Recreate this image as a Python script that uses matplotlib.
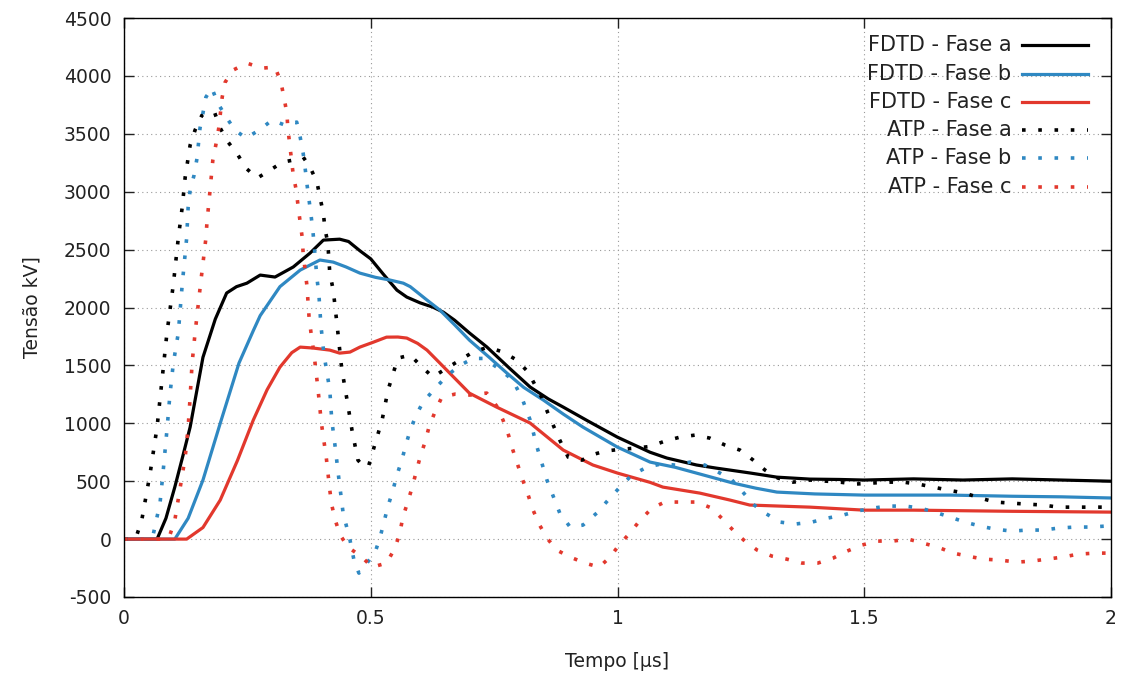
import matplotlib
matplotlib.use("Agg")
import matplotlib.pyplot as plt

# FDTD - Fase a
t_fa = [0, 0.067, 0.085, 0.103, 0.12, 0.134, 0.16, 0.185, 0.208, 0.228, 0.249, 0.276, 0.306,
        0.343, 0.377, 0.404, 0.437, 0.455, 0.478, 0.5, 0.525, 0.553, 0.573, 0.6, 0.626, 0.647,
        0.67, 0.7, 0.735, 0.78, 0.823, 0.86, 0.89, 0.94, 1.0, 1.066, 1.1, 1.16, 1.2, 1.228,
        1.27, 1.323, 1.39, 1.45, 1.5, 1.6, 1.7, 1.8, 1.9, 2.0]
v_fa = [0, 0, 180, 450, 730, 967, 1570, 1900, 2125, 2180, 2210, 2280, 2263,
        2350, 2470, 2582, 2590, 2570, 2490, 2420, 2290, 2150, 2090, 2040, 2003, 1960,
        1890, 1780, 1660, 1480, 1313, 1210, 1140, 1020, 880, 750, 700, 640, 613, 596,
        570, 535, 518, 515, 510, 520, 510, 520, 510, 500]

# FDTD - Fase b
t_fb = [0, 0.103, 0.13, 0.16, 0.195, 0.233, 0.262, 0.276, 0.316, 0.357, 0.397, 0.424, 0.45,
        0.478, 0.51, 0.539, 0.566, 0.58, 0.614, 0.64, 0.67, 0.7, 0.74, 0.776, 0.81, 0.85,
        0.89, 0.93, 1.0, 1.066, 1.117, 1.16, 1.234, 1.28, 1.323, 1.4, 1.5, 1.6, 1.674, 1.8,
        1.9, 2.0]
v_fb = [0, 0, 180, 510, 1000, 1520, 1800, 1930, 2180, 2323, 2410, 2392, 2350,
        2297, 2260, 2237, 2210, 2180, 2064, 1978, 1850, 1718, 1570, 1433, 1310, 1200,
        1080, 967, 794, 665, 620, 570, 484, 440, 406, 390, 380, 380, 380, 370,
        365, 355]

# FDTD - Fase c
t_fc = [0, 0.127, 0.16, 0.195, 0.23, 0.262, 0.29, 0.316, 0.34, 0.357, 0.383, 0.417, 0.437,
        0.458, 0.478, 0.505, 0.532, 0.555, 0.573, 0.595, 0.614, 0.64, 0.67, 0.7, 0.755,
        0.823, 0.89, 0.95, 1.0, 1.066, 1.092, 1.167, 1.228, 1.268, 1.39, 1.5, 1.6, 1.8, 2.0]
v_fc = [0, 0, 100, 337, 680, 1028, 1290, 1485, 1610, 1658, 1650, 1632, 1606,
        1615, 1658, 1700, 1744, 1745, 1736, 1690, 1632, 1520, 1390, 1260, 1140,
        1002, 769, 640, 570, 490, 449, 397, 337, 294, 276, 250, 250, 240, 233]

# ATP - Fase a
t_aa = [0, 0.02, 0.026, 0.036, 0.053, 0.067, 0.077, 0.087, 0.1, 0.11, 0.118, 0.124, 0.134,
        0.144, 0.158, 0.172, 0.184, 0.195, 0.211, 0.231, 0.247, 0.27, 0.296, 0.322, 0.343,
        0.363, 0.377, 0.391, 0.397, 0.404, 0.407, 0.413, 0.417, 0.424, 0.431, 0.441, 0.451,
        0.462, 0.474, 0.485, 0.495, 0.505, 0.523, 0.535, 0.555, 0.58, 0.604, 0.626, 0.654,
        0.681, 0.707, 0.738, 0.768, 0.796, 0.819, 0.833, 0.847, 0.859, 0.883, 0.9, 0.928,
        0.95, 0.975, 1.005, 1.035, 1.066, 1.096, 1.127, 1.157, 1.187, 1.218, 1.248, 1.275,
        1.299, 1.325, 1.356, 1.39, 1.451, 1.481, 1.516, 1.546, 1.579, 1.609, 1.64, 1.67,
        1.704, 1.735, 1.765, 1.796, 1.83, 1.863, 1.893, 1.923, 1.957, 2.0]
v_aa = [0, 0, 35, 164, 570, 967, 1373, 1779, 2200, 2600, 2867, 3126, 3402,
        3532, 3661, 3690, 3679, 3549, 3428, 3316, 3204, 3117, 3187, 3256, 3273,
        3299, 3212, 3083, 2953, 2815, 2686, 2556, 2297, 2150, 1880, 1477, 1226,
        941, 682, 630, 622, 769, 1028, 1287, 1563, 1589, 1485, 1399, 1477,
        1546, 1615, 1658, 1615, 1546, 1442, 1330, 1218, 1088, 855, 708, 682,
        730, 760, 775, 785, 800, 846, 881, 898, 872, 812, 769, 682,
        596, 527, 492, 510, 492, 475, 484, 492, 492, 475, 449, 423,
        397, 354, 320, 311, 302, 294, 276, 276, 276, 276]

# ATP - Fase b
t_ab = [0, 0.05, 0.059, 0.073, 0.079, 0.087, 0.093, 0.1, 0.11, 0.118, 0.127, 0.13, 0.134,
        0.142, 0.148, 0.154, 0.16, 0.166, 0.178, 0.19, 0.207, 0.225, 0.247, 0.274, 0.3,
        0.326, 0.35, 0.357, 0.363, 0.367, 0.371, 0.375, 0.379, 0.383, 0.391, 0.395, 0.399,
        0.405, 0.417, 0.421, 0.428, 0.434, 0.444, 0.458, 0.466, 0.476, 0.49, 0.509, 0.519,
        0.535, 0.545, 0.553, 0.563, 0.571, 0.58, 0.592, 0.606, 0.63, 0.657, 0.681, 0.707,
        0.73, 0.76, 0.788, 0.808, 0.823, 0.837, 0.857, 0.883, 0.904, 0.93, 0.958, 0.981,
        1.005, 1.029, 1.06, 1.09, 1.117, 1.147, 1.177, 1.204, 1.232, 1.254, 1.275, 1.299,
        1.329, 1.36, 1.394, 1.425, 1.457, 1.485, 1.518, 1.548, 1.583, 1.613, 1.643, 1.674,
        1.704, 1.735, 1.765, 1.799, 1.83, 1.863, 1.893, 1.927, 1.957, 1.988, 2.0]
v_ab = [0, 0, 35, 311, 570, 941, 1244, 1520, 1779, 2200, 2600, 2867, 3014,
        3143, 3290, 3549, 3679, 3817, 3895, 3765, 3644, 3532, 3463, 3532, 3618,
        3575, 3601, 3471, 3333, 3204, 3057, 2927, 2798, 2651, 2254, 2107, 1848,
        1600, 1287, 1028, 794, 570, 225, -9, -181, -294, -220, -112, 17,
        285, 423, 553, 682, 812, 941, 1071, 1183, 1300, 1420, 1500, 1560,
        1560, 1470, 1373, 1200, 1028, 794, 510, 225, 104, 121, 225, 337,
        449, 553, 622, 650, 639, 665, 639, 579, 510, 406, 300, 225,
        147, 130, 147, 181, 207, 242, 268, 285, 285, 268, 233, 190,
        147, 112, 86, 69, 78, 78, 95, 104, 104, 112, 115]

# ATP - Fase c
t_ac = [0, 0.085, 0.093, 0.103, 0.113, 0.124, 0.13, 0.134, 0.138, 0.144, 0.155, 0.166, 0.168,
        0.174, 0.18, 0.186, 0.192, 0.199, 0.205, 0.221, 0.249, 0.28, 0.306, 0.318, 0.324,
        0.33, 0.332, 0.336, 0.343, 0.349, 0.353, 0.357, 0.361, 0.363, 0.367, 0.371, 0.373,
        0.375, 0.379, 0.385, 0.393, 0.4, 0.41, 0.417, 0.421, 0.428, 0.438, 0.454, 0.482,
        0.503, 0.532, 0.549, 0.559, 0.565, 0.575, 0.584, 0.592, 0.6, 0.61, 0.618, 0.63,
        0.644, 0.671, 0.701, 0.735, 0.755, 0.768, 0.778, 0.788, 0.798, 0.808, 0.819, 0.829,
        0.841, 0.857, 0.877, 0.904, 0.934, 0.963, 0.985, 1.003, 1.025, 1.046, 1.07, 1.096,
        1.127, 1.16, 1.191, 1.211, 1.234, 1.258, 1.283, 1.313, 1.343, 1.374, 1.406, 1.437,
        1.465, 1.495, 1.526, 1.558, 1.589, 1.619, 1.649, 1.68, 1.71, 1.741, 1.775, 1.809,
        1.84, 1.87, 1.903, 1.933, 1.968, 2.0]
v_ac = [0, 0, 35, 164, 423, 708, 967, 1226, 1520, 1779, 2200, 2600, 2729,
        2997, 3273, 3402, 3549, 3817, 3946, 4050, 4110, 4067, 4076, 3946, 3817,
        3679, 3549, 3402, 3143, 3014, 2867, 2737, 2608, 2470, 2323, 2176, 2038,
        1917, 1779, 1600, 1300, 1000, 700, 423, 294, 164, 35, -69, -155,
        -242, -207, -78, 52, 190, 320, 449, 579, 708, 838, 967, 1097,
        1226, 1252, 1244, 1261, 1150, 1028, 915, 769, 639, 510, 380, 250,
        130, 9, -95, -155, -207, -242, -155, -52, 52, 164, 268, 320,
        320, 320, 268, 181, 78, -17, -95, -147, -173, -207, -207, -164,
        -104, -52, -17, -17, 0, -35, -69, -121, -147, -173, -181, -199,
        -190, -173, -155, -130, -121, -121]

azul = "#2f88c2"
verm = "#e2382d"
pontilhado = (0, (1, 3.5))

series = [
    ("FDTD - Fase a", t_fa, v_fa, "black", "-"),
    ("FDTD - Fase b", t_fb, v_fb, azul, "-"),
    ("FDTD - Fase c", t_fc, v_fc, verm, "-"),
    ("ATP - Fase a", t_aa, v_aa, "black", pontilhado),
    ("ATP - Fase b", t_ab, v_ab, azul, pontilhado),
    ("ATP - Fase c", t_ac, v_ac, verm, pontilhado),
]

plt.rcParams["font.family"] = "DejaVu Sans"
plt.rcParams["font.size"] = 13.5
plt.rcParams["axes.unicode_minus"] = False

fig = plt.figure(figsize=(11.3, 6.87), dpi=100)
ax = fig.add_axes([124 / 1130, 1 - 597 / 687, 987 / 1130, 579 / 687])

for nome, t, v, cor, estilo in series:
    lw = 2.3 if estilo == "-" else 2.6
    ax.plot(t, v, color=cor, linestyle=estilo, linewidth=lw,
            dash_capstyle="butt", solid_joinstyle="round")

ax.set_xlim(0, 2)
ax.set_ylim(-500, 4500)
ax.set_xticks([0, 0.5, 1, 1.5, 2])
ax.set_xticklabels(["0", "0.5", "1", "1.5", "2"])
ax.set_yticks(range(-500, 4501, 500))
ax.tick_params(direction="in", length=7, width=1, top=True, right=True,
               colors="#222222", pad=9)
ax.grid(True, color="#999999", linestyle=(0, (1, 3)), linewidth=0.8)
for s in ax.spines.values():
    s.set_color("black")
    s.set_linewidth(1.0)

ax.set_xlabel("Tempo [µs]", labelpad=17, color="#222222")
ax.set_ylabel("Tensão kV]", labelpad=16, color="#222222")

# legenda ao estilo gnuplot: texto alinhado à direita, amostra depois
y0 = 0.953
passo = 0.0489
for i, (nome, t, v, cor, estilo) in enumerate(series):
    yy = y0 - i * passo
    lw = 2.3 if estilo == "-" else 2.6
    ax.text(0.899, yy, nome, transform=ax.transAxes, ha="right", va="center",
            fontsize=15, color="#222222")
    ax.plot([0.91, 0.977], [yy, yy], transform=ax.transAxes, color=cor,
            linestyle=estilo, linewidth=lw, dash_capstyle="butt")

fig.savefig("out.png", dpi=100)
